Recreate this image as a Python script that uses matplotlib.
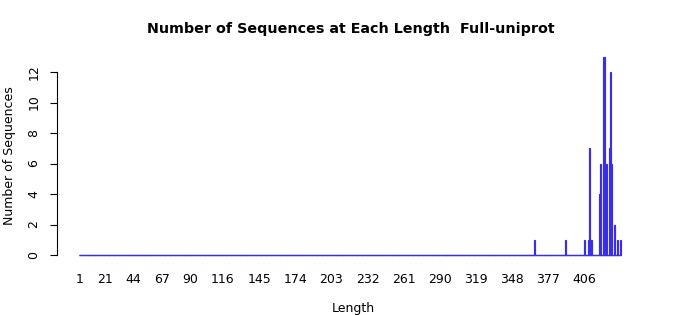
import numpy as np
import matplotlib
matplotlib.use('Agg')
import matplotlib.pyplot as plt

# sequence lengths seen in the set (every length from 1 up to the max is a bar)
max_length = 435
seen_lengths = [366, 391, 406, 409, 410, 411, 412, 418, 419, 421, 422,
                423, 424, 426, 427, 428, 430, 433, 435]
seen_counts = [1, 1, 1, 1, 7, 1, 1, 4, 6, 13, 13,
               5, 6, 7, 12, 6, 2, 1, 1]
tick_lengths = [1, 21, 44, 67, 90, 116, 145, 174, 203, 232, 261,
                290, 319, 348, 377, 406]
y_ticks = [0, 2, 4, 6, 8, 10, 12]

lengths = np.arange(1, max_length + 1)
counts = np.zeros(max_length)
counts[np.array(seen_lengths) - 1] = seen_counts

bar_w = 1 / 1.2
fill_col = '#4400cc'
edge_col = '#3a2fe6'

fig = plt.figure(figsize=(7, 3.15), dpi=100)
ax = fig.add_axes([57 / 700, 1 - 263 / 315, (649 - 57) / 700, (263 - 48.8) / 315])

ax.bar(lengths, counts, width=bar_w, color=fill_col, edgecolor=edge_col,
       linewidth=0.85)
# zero-height bars still show their border as a line along 0
ax.hlines(0, lengths[0] - bar_w / 2, lengths[-1] + bar_w / 2, color=edge_col,
          linewidth=1.0)

ax.set_xlim(-17.2, 457.9)
ax.set_ylim(-0.52, 13.52)

for side in ['top', 'right', 'bottom']:
    ax.spines[side].set_visible(False)
ax.spines['left'].set_bounds(0, 12)
ax.spines['left'].set_linewidth(0.8)

ax.set_yticks(y_ticks)
ax.set_yticklabels([str(v) for v in y_ticks], rotation=90, va='center')
ax.tick_params(axis='y', length=5, width=0.8, pad=7, labelsize=9)
ax.set_xticks(tick_lengths)
ax.set_xticklabels([str(v) for v in tick_lengths])
ax.tick_params(axis='x', length=0, pad=7, labelsize=9)

ax.set_xlabel('Length', fontsize=9, labelpad=12)
ax.set_ylabel('Number of Sequences', fontsize=9, labelpad=8)
fig.text(350.5 / 700, 1 - 29 / 315, 'Number of Sequences at Each Length  Full-uniprot',
         ha='center', va='center', fontsize=10.25, fontweight='bold')

fig.savefig('out.png', dpi=100)
